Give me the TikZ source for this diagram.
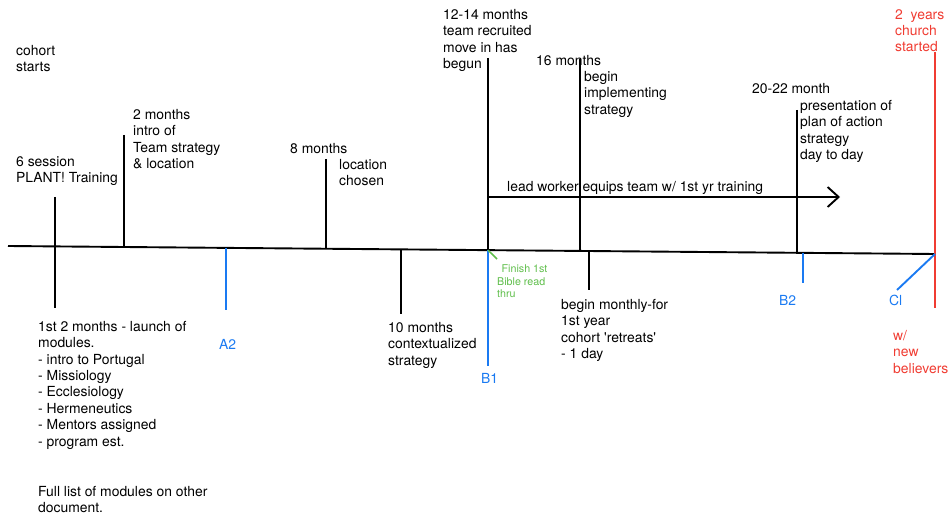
\documentclass[tikz,border=0pt]{standalone}
\usepackage{fontspec}
\setmainfont{TeX Gyre Heros}
\usetikzlibrary{arrows.meta}
\definecolor{tlblue}{RGB}{26,122,242}
\definecolor{tlred}{RGB}{240,60,50}
\definecolor{tlgreen}{RGB}{95,190,75}
\begin{document}
\begin{tikzpicture}[x=1pt,y=-1pt,
  txt/.style={anchor=north west, inner sep=0pt, align=left, font=\fontsize{13.9}{16.4}\selectfont},
  gtxt/.style={anchor=north west, inner sep=0pt, align=left, text=tlgreen, font=\fontsize{10.7}{12.5}\selectfont},
  tick/.style={line width=1.9pt, black},
  btick/.style={line width=1.9pt, tlblue},
  rtick/.style={line width=1.9pt, tlred}]
\useasboundingbox (0,0) rectangle (950,518);

% axis
\coordinate (axL) at (8,246);
\coordinate (axR) at (935,254);
\draw[tick] (axL) -- (axR);

% ticks
\coordinate (t1a) at (55,197); \coordinate (t1b) at (55,308);
\draw[tick] (t1a) -- (t1b);
\coordinate (t2a) at (124,135); \coordinate (t2b) at (124,246.9);
\draw[tick] (t2a) -- (t2b);
\coordinate (a2a) at (226,247.8); \coordinate (a2b) at (226,310);
\draw[btick] (a2a) -- (a2b);
\coordinate (t3a) at (326,159); \coordinate (t3b) at (326,248.7);
\draw[tick] (t3a) -- (t3b);
\coordinate (t4a) at (401,249.3); \coordinate (t4b) at (401,314);
\draw[tick] (t4a) -- (t4b);
\coordinate (t5a) at (488,58); \coordinate (t5b) at (488,250.1);
\draw[tick] (t5a) -- (t5b);
\coordinate (b1b) at (488,366);
\draw[btick] (t5b) -- (b1b);
\coordinate (t6a) at (580,59); \coordinate (t6b) at (580,250.9);
\draw[tick] (t6a) -- (t6b);
\coordinate (t7a) at (589,251); \coordinate (t7b) at (589,290);
\draw[tick] (t7a) -- (t7b);
\coordinate (t8a) at (797,110); \coordinate (t8b) at (797,252.8);
\draw[tick] (t8a) -- (t8b);
\coordinate (b2a) at (803,252.9); \coordinate (b2b) at (803,283);
\draw[btick] (b2a) -- (b2b);
\coordinate (ra) at (935,52); \coordinate (rb) at (935,308);
\draw[rtick] (ra) -- (rb);
\coordinate (cla) at (897,290);
\draw[btick] (axR) -- (cla);
\coordinate (gr) at (497,259);
\draw[line width=1.5pt, tlgreen] (t5b) -- (gr);

% arrow
\coordinate (arrA) at (488,197); \coordinate (arrB) at (840,197);
\draw[tick, -{Straight Barb[length=11pt,width=20pt,line width=1.9pt]}] (arrA) -- (arrB);

% labels
\node[txt] (l1) at (16,45) {cohort\\starts};
\node[txt] (l2) at (16,156) {6 session\\PLANT! Training};
\node[txt] (l3) at (133,109) {2 months\\intro of\\Team strategy\\\& location};
\node[txt] (l4) at (290,143) {8 months};
\node[txt] (l5) at (339,159) {location\\chosen};
\node[txt] (l6) at (388,322) {10 months\\contextualized\\strategy};
\node[txt] (l7) at (443,9) {12-14 months\\team recruited\\move in has\\begun};
\node[txt] (l8) at (536,55) {16 months};
\node[txt] (l9) at (584,71) {begin\\implementing\\strategy};
\node[txt] (l10) at (507,181) {lead worker equips team w/ 1st yr training};
\node[txt] (l11) at (561,299) {begin monthly-for\\1st year\\cohort \textquotesingle retreats\textquotesingle\\- 1 day};
\node[txt] (l12) at (752,83) {20-22 month};
\node[txt] (l13) at (800,100) {presentation of\\plan of action\\strategy\\day to day};
\node[txt, text=tlred] (l14) at (895,9) {2~ years\\church\\started};
\node[txt, text=tlred] (l15) at (893,330) {w/\\new\\believers};
\node[txt] (l16) at (38,321) {1st 2 months - launch of\\modules.\\- intro to Portugal\\- Missiology\\- Ecclesiology\\- Hermeneutics\\- Mentors assigned\\- program est.};
\node[txt] (l17) at (38,486) {Full list of modules on other\\document.};
\node[txt, text=tlblue] (la2) at (219,339) {A2};
\node[txt, text=tlblue] (lb1) at (481,373) {B1};
\node[txt, text=tlblue] (lb2) at (779,295) {B2};
\node[txt, text=tlblue] (lcl) at (889,295) {Cl};
\node[gtxt] (lg) at (497,265) {\hspace*{4.5pt}Finish 1st\\Bible read\\thru};
\end{tikzpicture}
\end{document}
